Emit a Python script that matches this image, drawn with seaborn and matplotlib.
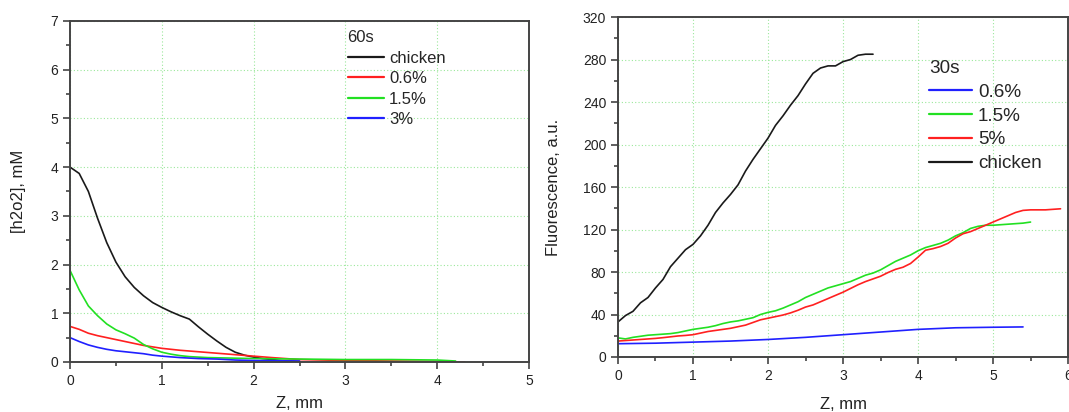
import numpy as np
import pandas as pd
import matplotlib
matplotlib.use("Agg")
import matplotlib.pyplot as plt
from matplotlib.ticker import MultipleLocator
import seaborn as sns

# ---- left panel: [h2o2] after 60s ----
z_chicken_60 = [0, 0.1, 0.2, 0.3, 0.4, 0.5, 0.6, 0.7, 0.8, 0.9, 1.0, 1.1, 1.2, 1.3,
                1.4, 1.5, 1.6, 1.7, 1.8, 1.9, 2.0, 2.1, 2.2, 2.3, 2.4, 2.5]
h2o2_chicken = [4.0, 3.87, 3.5, 2.95, 2.45, 2.05, 1.75, 1.53, 1.36, 1.22, 1.12, 1.03, 0.95, 0.88,
                0.72, 0.57, 0.43, 0.30, 0.20, 0.14, 0.10, 0.07, 0.05, 0.03, 0.02, 0.01]
z_06_60 = [0, 0.1, 0.2, 0.3, 0.4, 0.5, 0.6, 0.7, 0.8, 0.9, 1.0, 1.2, 1.4, 1.6, 1.8, 2.0,
           2.2, 2.5, 3.0, 3.5, 4.0, 4.3]
h2o2_06 = [0.73, 0.67, 0.59, 0.54, 0.50, 0.46, 0.42, 0.38, 0.34, 0.31, 0.28, 0.24, 0.21, 0.18,
           0.15, 0.12, 0.09, 0.05, 0.03, 0.02, 0.01, 0.0]
z_15_60 = [0, 0.1, 0.2, 0.3, 0.4, 0.5, 0.6, 0.7, 0.8, 0.9, 1.0, 1.1, 1.2, 1.3, 1.5, 2.0,
           2.5, 3.0, 3.5, 4.0, 4.2]
h2o2_15 = [1.88, 1.48, 1.15, 0.95, 0.78, 0.66, 0.58, 0.49, 0.36, 0.27, 0.20, 0.16, 0.13, 0.11,
           0.09, 0.07, 0.06, 0.05, 0.05, 0.04, 0.02]
z_3_60 = [0, 0.1, 0.2, 0.3, 0.4, 0.5, 0.6, 0.7, 0.8, 0.9, 1.0, 1.2, 1.4, 1.6, 1.8, 2.0, 2.5]
h2o2_3 = [0.50, 0.42, 0.35, 0.30, 0.26, 0.23, 0.21, 0.19, 0.17, 0.14, 0.12, 0.09, 0.07, 0.06,
          0.04, 0.03, 0.02]

# ---- right panel: fluorescence after 30s ----
z_chicken_30 = [0, 0.1, 0.2, 0.3, 0.4, 0.5, 0.6, 0.7, 0.8, 0.9, 1.0, 1.1, 1.2, 1.3, 1.4, 1.5,
                1.6, 1.7, 1.8, 1.9, 2.0, 2.1, 2.2, 2.3, 2.4, 2.5, 2.6, 2.7, 2.8, 2.9, 3.0,
                3.1, 3.2, 3.3, 3.4]
fl_chicken = [33, 39, 43, 51, 56, 65, 73, 85, 93, 101, 106, 114, 124, 136, 145, 153,
              162, 175, 186, 196, 206, 218, 227, 237, 246, 257, 267, 272, 274, 274, 278,
              280, 284, 285, 285]
z_15_30 = [0, 0.1, 0.2, 0.3, 0.4, 0.5, 0.6, 0.7, 0.8, 0.9, 1.0, 1.1, 1.2, 1.3, 1.4, 1.5,
           1.6, 1.7, 1.8, 1.9, 2.0, 2.1, 2.2, 2.3, 2.4, 2.5, 2.6, 2.7, 2.8, 2.9, 3.0,
           3.1, 3.2, 3.3, 3.4, 3.5, 3.6, 3.7, 3.8, 3.9, 4.0, 4.1, 4.2, 4.3, 4.4, 4.5,
           4.6, 4.7, 4.8, 4.9, 5.0, 5.1, 5.2, 5.3, 5.4, 5.5]
fl_15 = [18, 17, 18.5, 19.5, 20.5, 21, 21.5, 22, 23, 24.5, 26, 27, 28, 29.5, 31.5, 33,
         34, 35.5, 37, 40, 42, 43.5, 46, 49, 52, 56, 59, 62, 65, 67, 69,
         71, 74, 77, 79, 82, 86, 90, 93, 96, 100, 103, 105, 107, 110, 114,
         117, 121, 123, 124, 124, 124.5, 125, 125.5, 126, 127]
z_5_30 = [0, 0.1, 0.2, 0.3, 0.4, 0.5, 0.6, 0.7, 0.8, 0.9, 1.0, 1.1, 1.2, 1.3, 1.4, 1.5,
          1.6, 1.7, 1.8, 1.9, 2.0, 2.1, 2.2, 2.3, 2.4, 2.5, 2.6, 2.7, 2.8, 2.9, 3.0,
          3.1, 3.2, 3.3, 3.4, 3.5, 3.6, 3.7, 3.8, 3.9, 4.0, 4.1, 4.2, 4.3, 4.4, 4.5,
          4.6, 4.7, 4.8, 4.9, 5.0, 5.1, 5.2, 5.3, 5.4, 5.5, 5.6, 5.7, 5.8, 5.9]
fl_5 = [15, 15.5, 16, 16.5, 17, 17.5, 18.2, 19, 19.8, 20.3, 21, 22.5, 24, 25, 26, 27,
        28.5, 30, 32.5, 35, 36.5, 38, 39.5, 41.5, 44, 47, 49, 52, 55, 58, 61,
        64.5, 68, 71, 73.5, 76, 79.5, 82.5, 84.5, 88, 94, 100.5, 102, 104, 107, 112,
        116, 118, 121, 124, 127, 130, 133, 136, 138, 138.5, 138.5, 138.5, 139, 139.5]
z_06_30 = [0, 0.5, 1.0, 1.5, 2.0, 2.5, 3.0, 3.5, 4.0, 4.5, 5.0, 5.4]
fl_06 = [12.5, 13, 14, 15, 16.5, 18.5, 21, 23.5, 26, 27.5, 28, 28.3]


def long_frame(series):
    parts = [pd.DataFrame({"z": z, "value": v, "sample": name}) for name, z, v in series]
    return pd.concat(parts, ignore_index=True)


df60 = long_frame([("chicken", z_chicken_60, h2o2_chicken),
                   ("0.6%", z_06_60, h2o2_06),
                   ("1.5%", z_15_60, h2o2_15),
                   ("3%", z_3_60, h2o2_3)])
df30 = long_frame([("0.6%", z_06_30, fl_06),
                   ("1.5%", z_15_30, fl_15),
                   ("5%", z_5_30, fl_5),
                   ("chicken", z_chicken_30, fl_chicken)])

pal60 = {"chicken": "#1a1a1a", "0.6%": "#ff2020", "1.5%": "#22e022", "3%": "#2020ff"}
pal30 = {"0.6%": "#2020ff", "1.5%": "#22e022", "5%": "#ff2020", "chicken": "#1a1a1a"}

sns.set_style("ticks")
plt.rcParams["font.family"] = ["Liberation Sans", "DejaVu Sans"]

fig = plt.figure(figsize=(10.69, 4.12), dpi=100)
ax1 = fig.add_axes([0.0655, 0.1214, 0.4294, 0.8277])
ax2 = fig.add_axes([0.5781, 0.1335, 0.4210, 0.8252])

sns.lineplot(data=df60, x="z", y="value", hue="sample", hue_order=list(pal60),
             palette=pal60, linewidth=1.2, ax=ax1, estimator=None, sort=False)
sns.lineplot(data=df30, x="z", y="value", hue="sample", hue_order=list(pal30),
             palette=pal30, linewidth=1.2, ax=ax2, estimator=None, sort=False)

ax1.set_xlim(0, 5)
ax1.set_ylim(0, 7)
ax1.xaxis.set_major_locator(MultipleLocator(1))
ax1.xaxis.set_minor_locator(MultipleLocator(0.5))
ax1.yaxis.set_major_locator(MultipleLocator(1))
ax1.yaxis.set_minor_locator(MultipleLocator(0.5))
ax1.set_xlabel("Z, mm", fontsize=12, color="#222222", labelpad=6)
ax1.set_ylabel("[h2o2], mM", fontsize=12, color="#222222")
ax1.yaxis.set_label_coords(-0.096, 0.5)

ax2.set_xlim(0, 6)
ax2.set_ylim(0, 320)
ax2.xaxis.set_major_locator(MultipleLocator(1))
ax2.xaxis.set_minor_locator(MultipleLocator(0.5))
ax2.yaxis.set_major_locator(MultipleLocator(40))
ax2.yaxis.set_minor_locator(MultipleLocator(20))
ax2.set_xlabel("Z, mm", fontsize=12, color="#222222", labelpad=10)
ax2.set_ylabel("Fluorescence, a.u.", fontsize=12, color="#222222")
ax2.yaxis.set_label_coords(-0.127, 0.5)

for ax in (ax1, ax2):
    ax.grid(True, which="major", color="#9be89b", linestyle=(0, (1, 2)), linewidth=0.8)
    ax.set_axisbelow(True)
    for side in ("left", "right", "top", "bottom"):
        ax.spines[side].set_visible(True)
        ax.spines[side].set_color("#444444")
        ax.spines[side].set_linewidth(1.4)
    ax.tick_params(which="major", direction="out", length=5, width=1.2,
                   colors="#444444", labelsize=10, labelcolor="#222222")
    ax.tick_params(which="minor", direction="out", length=3, width=1.2, colors="#444444")

leg1 = ax1.legend(title="60s", frameon=False, loc="upper left",
                  bbox_to_anchor=(0.590, 0.993), fontsize=12, title_fontsize=12,
                  handlelength=2.2, handletextpad=0.3, labelspacing=0.33,
                  alignment="left", borderaxespad=0)
leg2 = ax2.legend(title="30s", frameon=False, loc="upper left",
                  bbox_to_anchor=(0.674, 0.896), fontsize=13.6, title_fontsize=13.6,
                  handlelength=2.27, handletextpad=0.32, labelspacing=0.35,
                  alignment="left", borderaxespad=0)
for leg in (leg1, leg2):
    for line in leg.get_lines():
        line.set_linewidth(1.6)

fig.savefig("out.png", dpi=100)
